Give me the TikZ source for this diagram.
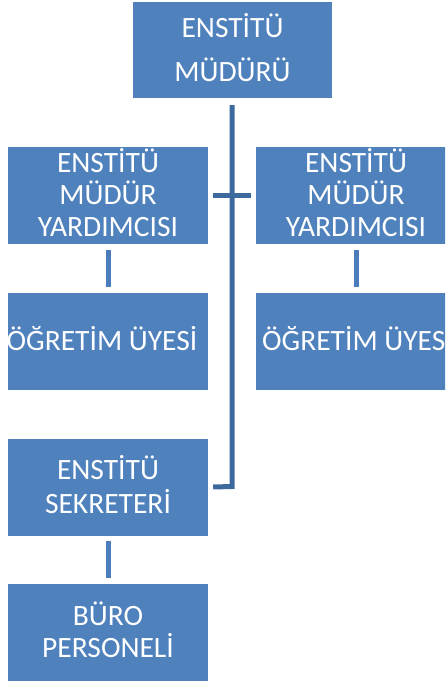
\documentclass[tikz,border=0pt]{standalone}
\usepackage{fontspec}
\setmainfont{Carlito}
\definecolor{boxblue}{HTML}{4F81BD}
\definecolor{linkblue}{HTML}{4A7DB9}
\definecolor{mainblue}{HTML}{3D6A9E}
\begin{document}
\begin{tikzpicture}[x=1pt,y=-1pt,
  box/.style={fill=boxblue, text=white, align=center, inner sep=0pt,
    minimum width=200pt, minimum height=97pt, text depth=0pt,
    font=\fontsize{29.5pt}{32pt}\selectfont},
  mainconn/.style={draw=mainblue, line width=5pt, line join=miter},
  subconn/.style={draw=linkblue, line width=5pt}]
\useasboundingbox (0,0) rectangle (445,687);
\clip (0,0) rectangle (445,687);
\node[box, minimum width=199pt, minimum height=96pt, text height=62.6pt,
  font=\fontsize{29.5pt}{44pt}\selectfont] (top) at (232.5,50) {ENSTİTÜ\\MÜDÜRÜ};
\node[box, text height=82.6pt] (y1) at (108,195.5) {ENSTİTÜ\\MÜDÜR\\YARDIMCISI};
\node[box, text height=82.6pt] (y2) at (356,195.5) {ENSTİTÜ\\MÜDÜR\\YARDIMCISI};
\node[box, text height=18.6pt] (o1) at (108,341.5) {\hspace*{-12pt}ÖĞRETİM ÜYESİ};
\node[box, text height=18.6pt] (o2) at (356,341.5) {\hspace*{3pt}ÖĞRETİM ÜYESİ};
\node[box, text height=52.6pt, font=\fontsize{29.5pt}{34pt}\selectfont] (sek) at (108,487) {ENSTİTÜ\\SEKRETERİ};
\node[box, text height=50.6pt] (buro) at (108,632.5) {BÜRO\\PERSONELİ};
\coordinate (corner) at (232,486.5);
\draw[mainconn] ([yshift=-7pt]top.south -| corner) -- (corner) -- ([xshift=5pt]sek.east);
\draw[mainconn] ([xshift=5pt]y1.east) -- ([xshift=-5pt]y2.west);
\draw[subconn] ([yshift=-6pt]y1.south) -- ([yshift=6pt]o1.north);
\draw[subconn] ([yshift=-6pt]y2.south) -- ([yshift=6pt]o2.north);
\draw[subconn] ([yshift=-5pt]sek.south) -- ([yshift=6pt]buro.north);
\end{tikzpicture}
\end{document}
